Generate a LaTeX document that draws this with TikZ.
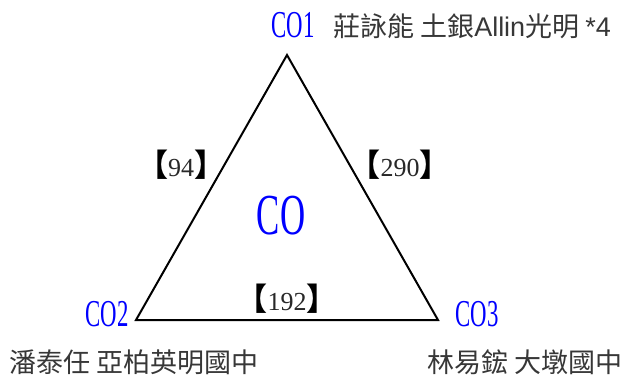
\documentclass[tikz,border=0pt]{standalone}
\usepackage{fontspec}
\setmainfont{Liberation Serif}
\newfontfamily\cjk{Noto Sans CJK TC}
\newfontfamily\lsans{Liberation Sans}
\newfontfamily\cond[FakeStretch=0.6]{Liberation Serif}
\definecolor{pureblue}{RGB}{0,0,255}
\definecolor{txtgray}{RGB}{40,40,40}
\definecolor{namegray}{RGB}{55,55,55}
\newcommand{\lbr}{{\cjk\bfseries\fontsize{31}{31}\selectfont\color{black}【}}
\newcommand{\rbr}{{\cjk\bfseries\fontsize{31}{31}\selectfont\color{black}】}}
\tikzset{
  vlabel/.style={text=pureblue, inner sep=0pt, font=\cond\fontsize{38}{38}\selectfont},
  person/.style={text=namegray, inner sep=0pt, anchor=west, font=\cjk\fontsize{27}{27}\selectfont},
  weight/.style={text=txtgray, inner sep=0pt, font=\fontsize{26}{26}\selectfont},
  tri/.style={draw=black, line width=2pt, line join=miter}
}
\begin{document}
\begin{tikzpicture}[x=1pt, y=-1pt]
  \useasboundingbox (0,0) rectangle (624,376);
  \coordinate (A) at (287,55);
  \coordinate (B) at (136,320);
  \coordinate (C) at (438,320);
  \draw[tri] (A) -- (B) -- (C) -- cycle;
  \node[vlabel] (co1) at (293,25) {CO1};
  \node[vlabel] (co2) at (107,314) {CO2};
  \node[vlabel] (co3) at (477,314) {CO3};
  \node[vlabel, font=\cond\fontsize{58}{58}\selectfont] (co) at (281,216) {CO};
  \node[person] (p1) at (333,26) {莊詠能 土銀{\lsans Allin}光明 {\lsans *4}};
  \node[person] (p2) at (9,362) {潘泰任 亞柏英明國中};
  \node[person] (p3) at (427,362) {林易鋐 大墩國中};
  \node[weight] (w1) at (181,165) {\lbr 94\rbr};
  \node[weight] (w2) at (400,165) {\lbr 290\rbr};
  \node[weight] (w3) at (287,299) {\lbr 192\rbr};
\end{tikzpicture}
\end{document}
